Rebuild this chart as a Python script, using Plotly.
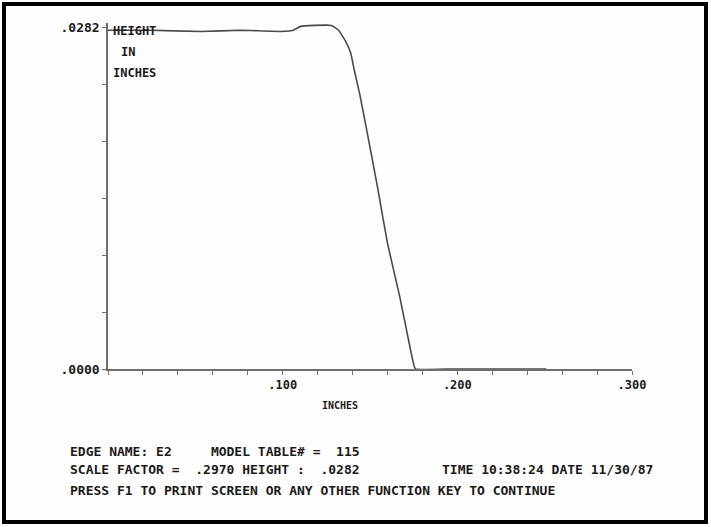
import plotly.graph_objects as go

# Profile data (inches)
x_in = [0.000, 0.024, 0.053, 0.076, 0.099, 0.106, 0.110, 0.118, 0.128, 0.132,
        0.136, 0.139, 0.141, 0.144, 0.147, 0.1546, 0.160, 0.167, 0.1736, 0.176,
        0.197, 0.225, 0.251]
height_in = [0.0280, 0.0280, 0.0279, 0.0280, 0.0279, 0.0280, 0.0283, 0.0284, 0.0284, 0.0280,
             0.0271, 0.0261, 0.0247, 0.0228, 0.0206, 0.0148, 0.0104, 0.0060, 0.0013, 0.0000,
             0.0000, 0.0000, 0.0000]

x_tickvals = [0.00, 0.02, 0.04, 0.06, 0.08, 0.10, 0.12, 0.14, 0.16, 0.18, 0.20,
              0.22, 0.24, 0.26, 0.28, 0.30]
x_ticklabels = ["", "", "", "", "", ".100", "", "", "", "", ".200",
                "", "", "", "", ".300"]
y_tickvals = [0.0, 0.0047, 0.0094, 0.0141, 0.0188, 0.0235, 0.0282]
y_ticklabels = [".0000", "", "", "", "", "", ".0282"]

info_lines = [
    "EDGE NAME: E2     MODEL TABLE# =  115",
    "SCALE FACTOR =  .2970 HEIGHT :  .0282",
    "PRESS F1 TO PRINT SCREEN OR ANY OTHER FUNCTION KEY TO CONTINUE",
]
time_text = "TIME 10:38:24 DATE 11/30/87"

MONO = "DejaVu Sans Mono"
INK = "#1a1a1a"
AXIS = "#6e6e6e"

fig = go.Figure()
fig.add_trace(go.Scatter(x=x_in, y=height_in, mode="lines",
                         line=dict(color="#4a4a4a", width=1.6, shape="spline", smoothing=0.3),
                         hoverinfo="skip", showlegend=False))

fig.update_layout(
    width=711, height=527,
    margin=dict(l=108, r=79, t=23, b=158),
    paper_bgcolor="#fffdfd", plot_bgcolor="#fffdfd",
    showlegend=False,
    xaxis=dict(range=[0, 0.3], showgrid=False, zeroline=False,
               showline=True, linecolor=AXIS, linewidth=1.5,
               ticks="outside", ticklen=4, tickwidth=1.2, tickcolor=AXIS,
               tickvals=x_tickvals, ticktext=x_ticklabels,
               tickfont=dict(family=MONO, size=12, color=INK, weight="bold")),
    yaxis=dict(range=[0, 0.0286], showgrid=False, zeroline=False,
               showline=True, linecolor=AXIS, linewidth=1.5,
               ticks="outside", ticklen=4, tickwidth=1.2, tickcolor=AXIS,
               tickvals=y_tickvals, ticktext=y_ticklabels,
               tickfont=dict(family=MONO, size=13, color=INK, weight="bold")),
)

def px2paper(px, py):
    return (px - 108) / 524.0, (369 - py) / 346.0

def add_text(txt, px, py, size=12, xanchor="left"):
    xp, yp = px2paper(px, py)
    fig.add_annotation(text=txt.replace(" ", "\u00a0"), x=xp, y=yp, xref="paper", yref="paper",
                       xanchor=xanchor, yanchor="middle", showarrow=False,
                       font=dict(family=MONO, size=size, color=INK, weight="bold"))

add_text("HEIGHT", 111, 31, 12)
add_text("IN", 119, 52, 12)
add_text("INCHES", 111, 73, 12)
add_text("INCHES", 340, 405, 10, xanchor="center")

add_text(info_lines[0], 68, 451, 13)
add_text(info_lines[1], 68, 470, 13)
add_text(info_lines[2], 68, 490, 13)
add_text(time_text, 440, 470, 13)

# outer frame
x0, y0 = px2paper(4, 4)
x1, y1 = px2paper(706, 522)
fig.add_shape(type="rect", xref="paper", yref="paper", x0=x0, y0=y1, x1=x1, y1=y0,
              line=dict(color="black", width=4), fillcolor="rgba(0,0,0,0)", layer="above")

fig.write_html("out.html")
